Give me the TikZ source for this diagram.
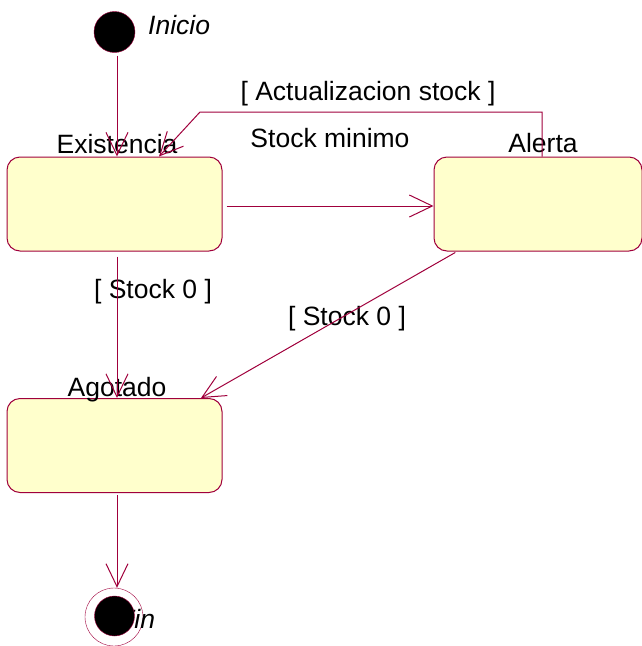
\documentclass[tikz,border=0pt]{standalone}
\usepackage{fontspec}
\setmainfont{Liberation Sans}
\usetikzlibrary{arrows.meta}
\definecolor{rosered}{RGB}{160,0,60}
\definecolor{roseyellow}{RGB}{255,255,204}
\begin{document}
\begin{tikzpicture}[x=1pt,y=-1pt,
  state/.style={draw=rosered,fill=roseyellow,rounded corners=13pt,minimum width=215pt,minimum height=94pt,line width=1pt},
  trans/.style={draw=rosered,line width=1pt,-{Straight Barb[length=23pt,width=22pt]}},
  txt/.style={anchor=base,inner sep=0pt,font=\fontsize{26.5}{30}\selectfont}]
  \useasboundingbox (0,0) rectangle (642,646);
  \node[circle,fill=black,draw=rosered,minimum size=41pt,inner sep=0pt] (init) at (114.5,32) {};
  \node[txt,anchor=base west,font=\fontsize{26.5}{30}\selectfont\itshape] (initlbl) at (148,34) {Inicio};
  \node[state] (exis) at (114.5,204) {};
  \node[state,minimum width=208pt] (alerta) at (538,204) {};
  \node[state] (agot) at (114.5,445.5) {};
  \node[txt] (exislbl) at (117,153) {Existencia};
  \node[txt] (alertalbl) at (543,152) {Alerta};
  \node[txt] (agotlbl) at (117,396) {Agotado};
  \node[txt] (minlbl) at (330,147) {Stock minimo};
  \node[txt] (actlbl) at (368,100) {[ Actualizacion stock ]};
  \node[txt] (cerolbl) at (153,298) {[ Stock 0 ]};
  \node[txt] (ceroalbl) at (347,325) {[ Stock 0 ]};
  \node[circle,draw=rosered,minimum size=58pt,inner sep=0pt] (fin) at (114,617) {};
  \node[txt,anchor=base west,font=\fontsize{26.5}{30}\selectfont\itshape] (finlbl) at (118,628) {Fin};
  \node[circle,fill=black,draw=rosered,minimum size=40pt,inner sep=0pt] (findot) at (114.5,616) {};
  \coordinate (bend) at (200,112);
  \draw[trans,shorten <=3pt] ([xshift=2.5pt]init.south) -- ([xshift=2.5pt]exis.north);
  \draw[trans,shorten <=4pt] ([yshift=-2pt]exis.east) -- ([yshift=-2pt]alerta.west);
  \draw[trans] ([xshift=4pt]alerta.north) |- (bend) -- ([xshift=44.5pt]exis.north);
  \draw[trans,shorten <=5pt] ([xshift=2.5pt]exis.south) -- ([xshift=2.5pt]agot.north);
  \draw[trans,shorten <=2pt] ([xshift=-81pt]alerta.south) -- ([xshift=86.5pt]agot.north);
  \draw[trans,shorten <=2pt] ([xshift=2.5pt]agot.south) -- ([xshift=3pt]fin.north);
\end{tikzpicture}
\end{document}
